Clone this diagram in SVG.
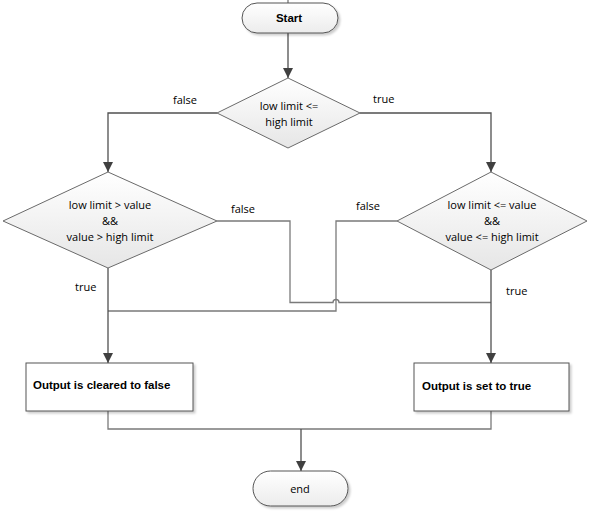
<svg xmlns="http://www.w3.org/2000/svg" width="592" height="511" viewBox="0 0 592 511">
<defs>
<linearGradient id="gd" x1="0" y1="0" x2="0" y2="1"><stop offset="0" stop-color="#ffffff"/><stop offset="1" stop-color="#e6e6e6"/></linearGradient>
<linearGradient id="gt" x1="0" y1="0" x2="0" y2="1"><stop offset="0" stop-color="#ffffff"/><stop offset="1" stop-color="#ececec"/></linearGradient>
<marker id="ah" viewBox="0 0 10 10" refX="10" refY="5" markerWidth="10" markerHeight="10" markerUnits="userSpaceOnUse" orient="auto"><path d="M0,0 L10,5 L0,10 z" fill="#404040"/></marker>
<filter id="sh" x="-10%" y="-10%" width="130%" height="140%"><feDropShadow dx="2" dy="2" stdDeviation="1.2" flood-color="#000" flood-opacity="0.2"/></filter>
</defs>
<style>
.ln{fill:none;stroke:#7a7a7a;stroke-width:1.3}
.ar{fill:none;stroke:#505050;stroke-width:1.3;marker-end:url(#ah)}
.dia{fill:url(#gd);stroke:#6a6a6a;stroke-width:1}
.term{fill:url(#gt);stroke:#555;stroke-width:1;filter:url(#sh)}
.box{fill:#fff;stroke:#555;stroke-width:1;filter:url(#sh)}
.t{font-family:"Open Sans","DejaVu Sans",sans-serif;font-size:11px;fill:#000}
.c{text-anchor:middle}
.b{font-family:"Liberation Sans",Arial,sans-serif;font-size:11.5px;font-weight:bold;fill:#000}
</style>
<g id="connectors">
<path class="ln" d="M288,0 V3"/>
<path class="ar" d="M288,33 V78"/>
<path class="ar" d="M217,113 H108 V172"/>
<path class="ar" d="M360,113 H491 V172"/>
<path class="ln" d="M217,221 H290 V302.5 H333 A3,3 0 0 1 339,302.5 H491"/>
<path class="ln" d="M397,221 H336 V311 H108"/>
<path class="ar" d="M108,268 V363"/>
<path class="ar" d="M491,270 V363"/>
<path class="ln" d="M108,411 V429 H491 V411"/>
<path class="ar" d="M301,429 V471"/>
<text class="t" x="173" y="104">false</text>
<text class="t" x="373" y="103">true</text>
<text class="t" x="231" y="213">false</text>
<text class="t" x="356" y="210">false</text>
<text class="t" x="75" y="291">true</text>
<text class="t" x="506" y="295">true</text>
</g>
<g id="start">
<rect class="term" x="242" y="3" width="96" height="30" rx="15" ry="15"/>
<text class="b c" x="289" y="22">Start</text>
</g>
<g id="d1">
<polygon class="dia" points="288,78 360,113 288,148 217,113"/>
<text class="t c" x="289" y="110">low limit &lt;=</text>
<text class="t c" x="289" y="126">high limit</text>
</g>
<g id="d2">
<polygon class="dia" points="108,172 217,221 108,268 3,221"/>
<text class="t c" x="110" y="209">low limit &gt; value</text>
<text class="t c" x="110" y="225">&amp;&amp;</text>
<text class="t c" x="110" y="241">value &gt; high limit</text>
</g>
<g id="d3">
<polygon class="dia" points="491,172 587,221 491,270 397,221"/>
<text class="t c" x="492" y="209">low limit &lt;= value</text>
<text class="t c" x="492" y="225">&amp;&amp;</text>
<text class="t c" x="492" y="241">value &lt;= high limit</text>
</g>
<g id="box1">
<rect class="box" x="26" y="363" width="167" height="48"/>
<text class="b" x="33" y="389">Output is cleared to false</text>
</g>
<g id="box2">
<rect class="box" x="414" y="363" width="155" height="48"/>
<text class="b" x="422" y="390">Output is set to true</text>
</g>
<g id="end">
<rect class="term" x="253" y="471" width="95" height="35" rx="17.5" ry="17.5"/>
<text class="t c" x="300" y="493">end</text>
</g>
</svg>
